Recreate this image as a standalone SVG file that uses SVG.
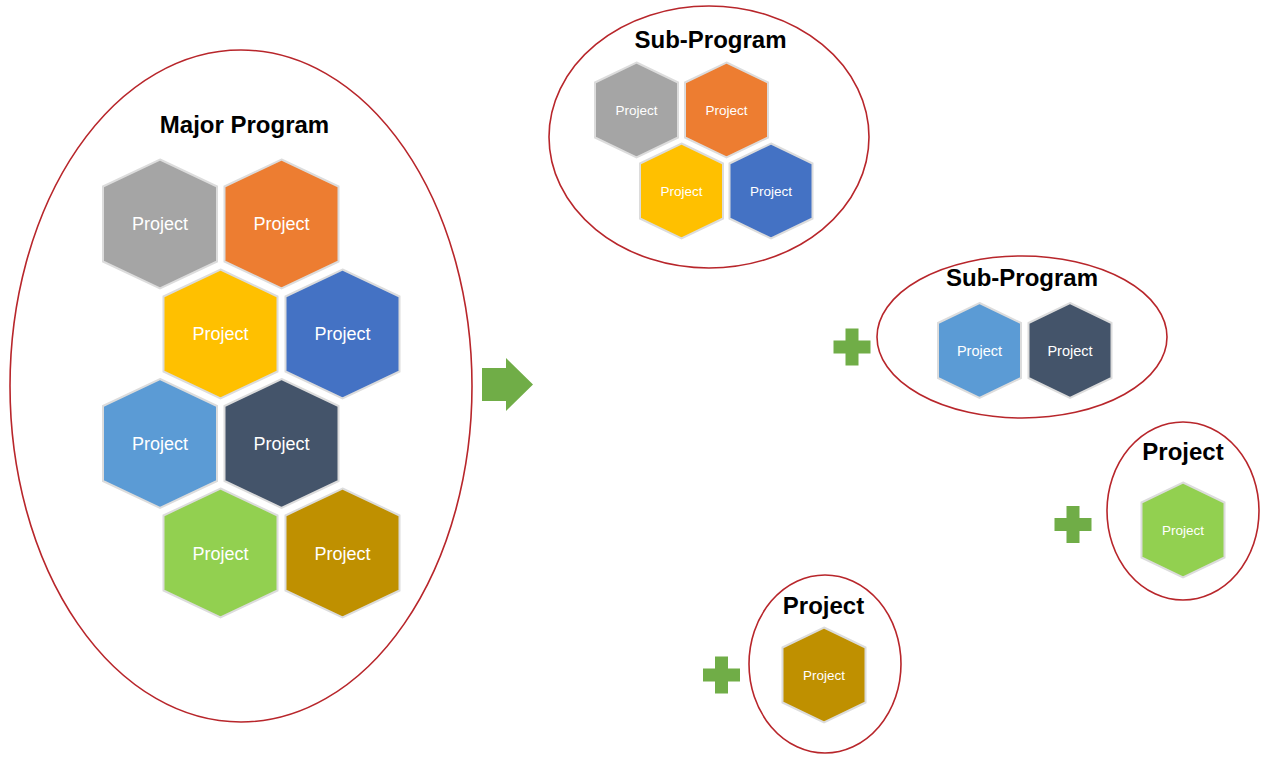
<svg xmlns="http://www.w3.org/2000/svg" width="1265" height="758" viewBox="0 0 1265 758">
<style>
.ring{fill:none;stroke:#b8262b;stroke-width:1.6}
.hex{stroke:#dcdcdc;stroke-width:2}
.title{font-family:"Liberation Sans",Arial,sans-serif;font-weight:bold;font-size:24px;fill:#000;text-anchor:middle}
.lbl{font-family:"Liberation Sans",Arial,sans-serif;fill:#fff;text-anchor:middle}
.big{font-size:18px}
.sm{font-size:13.5px}
.md{font-size:14.5px}
.plus{fill:#70ad47}
.gray{fill:#a5a5a5}.orange{fill:#ed7d31}.yellow{fill:#ffc000}.blue{fill:#4472c4}
.lblue{fill:#5b9bd5}.dark{fill:#44546a}.green{fill:#92d050}.gold{fill:#bf9000}
</style>
<defs>
<path id="hexL" d="M0,-64.5 L57,-37.5 L57,37.5 L0,64.5 L-57,37.5 L-57,-37.5 Z"/>
<path id="hexS" d="M0,-47.5 L41.5,-27.5 L41.5,27.5 L0,47.5 L-41.5,27.5 L-41.5,-27.5 Z"/>
<path id="plusShape" d="M-6.5,-18.5 H6.5 V-6.5 H18.5 V6.5 H6.5 V18.5 H-6.5 V6.5 H-18.5 V-6.5 H-6.5 Z"/>
</defs>

<g id="major-program">
<ellipse class="ring" cx="241" cy="386" rx="231" ry="336"/>
<text class="title" x="244.5" y="133">Major Program</text>
<g id="mp-p1"><use href="#hexL" class="hex gray" x="160" y="224"/><text class="lbl big" x="160" y="230">Project</text></g>
<g id="mp-p2"><use href="#hexL" class="hex orange" x="281.5" y="224"/><text class="lbl big" x="281.5" y="230">Project</text></g>
<g id="mp-p3"><use href="#hexL" class="hex yellow" x="220.5" y="334"/><text class="lbl big" x="220.5" y="340">Project</text></g>
<g id="mp-p4"><use href="#hexL" class="hex blue" x="342.5" y="334"/><text class="lbl big" x="342.5" y="340">Project</text></g>
<g id="mp-p5"><use href="#hexL" class="hex lblue" x="160" y="443.5"/><text class="lbl big" x="160" y="450">Project</text></g>
<g id="mp-p6"><use href="#hexL" class="hex dark" x="281.5" y="443.5"/><text class="lbl big" x="281.5" y="450">Project</text></g>
<g id="mp-p7"><use href="#hexL" class="hex green" x="220.5" y="553"/><text class="lbl big" x="220.5" y="560">Project</text></g>
<g id="mp-p8"><use href="#hexL" class="hex gold" x="342.5" y="553"/><text class="lbl big" x="342.5" y="560">Project</text></g>
</g>

<g id="connectors">
<path id="arrow" fill="#70ad47" d="M482,368 H506 V358 L533,384.5 L506,411 V401 H482 Z"/>
<use href="#plusShape" class="plus" x="852" y="347"/>
<use href="#plusShape" class="plus" x="1073" y="524.5"/>
<use href="#plusShape" class="plus" x="721.5" y="675"/>
</g>

<g id="sub-program-1">
<ellipse class="ring" cx="709" cy="137" rx="160" ry="131"/>
<text class="title" x="710.5" y="48">Sub-Program</text>
<g id="sp1-p1"><use href="#hexS" class="hex gray" x="636.5" y="110"/><text class="lbl sm" x="636.5" y="115">Project</text></g>
<g id="sp1-p2"><use href="#hexS" class="hex orange" x="726.5" y="110"/><text class="lbl sm" x="726.5" y="115">Project</text></g>
<g id="sp1-p3"><use href="#hexS" class="hex yellow" x="681.5" y="191"/><text class="lbl sm" x="681.5" y="196">Project</text></g>
<g id="sp1-p4"><use href="#hexS" class="hex blue" x="771" y="191"/><text class="lbl sm" x="771" y="196">Project</text></g>
</g>

<g id="sub-program-2">
<ellipse class="ring" cx="1022" cy="337" rx="145" ry="81"/>
<text class="title" x="1022" y="286">Sub-Program</text>
<g id="sp2-p1"><use href="#hexS" class="hex lblue" x="979.5" y="350.5"/><text class="lbl md" x="979.5" y="356">Project</text></g>
<g id="sp2-p2"><use href="#hexS" class="hex dark" x="1070" y="350.5"/><text class="lbl md" x="1070" y="356">Project</text></g>
</g>

<g id="project-right">
<ellipse class="ring" cx="1183" cy="511" rx="76" ry="89"/>
<text class="title" x="1183" y="460">Project</text>
<g id="pr-p1"><use href="#hexS" class="hex green" x="1183" y="530"/><text class="lbl sm" x="1183" y="535">Project</text></g>
</g>

<g id="project-bottom">
<ellipse class="ring" cx="825" cy="664" rx="76" ry="89"/>
<text class="title" x="823.5" y="614">Project</text>
<g id="pb-p1"><use href="#hexS" class="hex gold" x="824" y="675"/><text class="lbl sm" x="824" y="680">Project</text></g>
</g>
</svg>
